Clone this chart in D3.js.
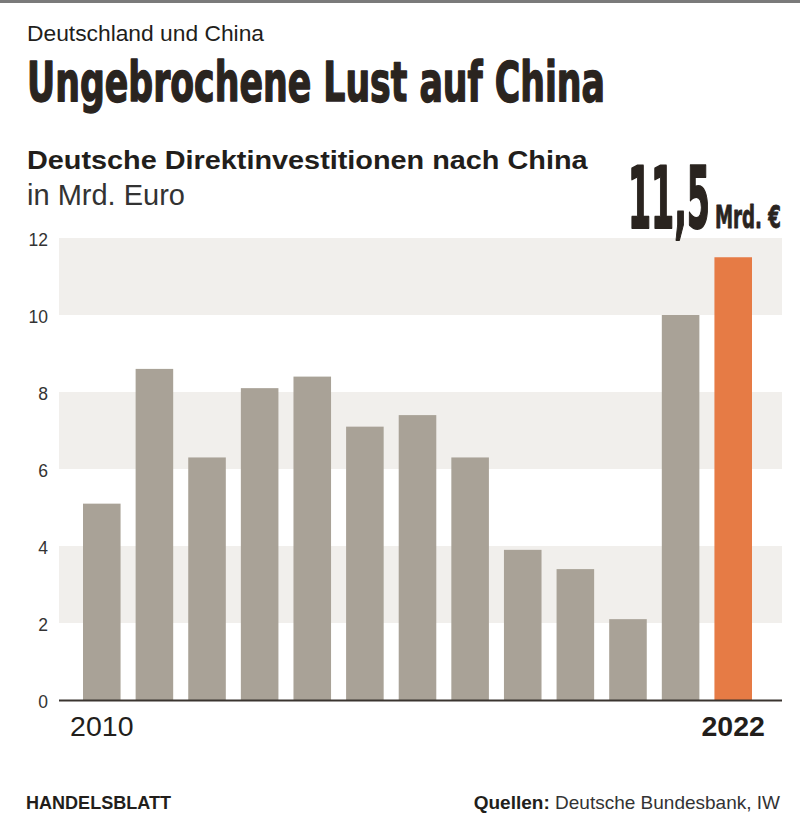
<!DOCTYPE html>
<html><head><meta charset="utf-8">
<script src="https://cdn.jsdelivr.net/npm/d3@7"></script>
<style>
body{margin:0;background:#fff;}
svg{display:block;}
text{font-family:"Liberation Sans",Arial,sans-serif;fill:#221e1b;}
</style></head>
<body><svg id="c" width="800" height="828"></svg>
<script>
const years = [2010,2011,2012,2013,2014,2015,2016,2017,2018,2019,2020,2021,2022];
const values = [5.1,8.6,6.3,8.1,8.4,7.1,7.4,6.3,3.9,3.4,2.1,10.0,11.5];
const yTicks = [0,2,4,6,8,10,12];
const shadedBands = [[2,4],[6,8],[10,12]];
const xLabels = [2010,2022];

const svg = d3.select("#c");
const condensed = "'DejaVu Sans Condensed','DejaVu Sans',sans-serif";

// Place a text and scale it horizontally so its width becomes w.
function fitText(parent, x, y, w, size, txt, opts) {
  const g = parent.append("g");
  const t = g.append("text").attr("x",0).attr("y",0).attr("font-size",size).text(txt);
  if (opts.family) t.style("font-family", opts.family);
  if (opts.weight) t.attr("font-weight", opts.weight);
  if (opts.fill) t.style("fill", opts.fill);
  if (opts.stroke) t.style("stroke", opts.fill || "#221e1b").style("stroke-width", opts.stroke).style("stroke-linejoin","round");
  const len = t.node().getComputedTextLength();
  g.attr("transform", `translate(${x},${y}) scale(${w/len},1)`);
  return t;
}

svg.append("rect").attr("x",0).attr("y",0).attr("width",800).attr("height",3).attr("fill","#7a7a7a");

svg.append("text").attr("x",27).attr("y",41).attr("font-size",22.8).text("Deutschland und China");
fitText(svg, 27, 101, 578, 55, "Ungebrochene Lust auf China", {family:condensed, weight:"bold", fill:"#2a241f", stroke:1.4});
fitText(svg, 27, 169, 561, 26, "Deutsche Direktinvestitionen nach China", {weight:"bold"});
svg.append("text").attr("x",27).attr("y",205).attr("font-size",29).style("fill","#333")
  .text("in Mrd. Euro");

const x = d3.scaleBand().domain(years).range([83,752]).paddingInner(0.286).paddingOuter(0);
const y = d3.scaleLinear().domain([0,12]).range([700,238]);

const g = svg.append("g");
g.selectAll("rect.band").data(shadedBands).join("rect").attr("class","band")
  .attr("x",59).attr("width",723)
  .attr("y",d=>y(d[1])).attr("height",d=>y(d[0])-y(d[1])).attr("fill","#f1efec");

g.selectAll("rect.bar").data(years).join("rect").attr("class","bar")
  .attr("x",d=>x(d)).attr("width",x.bandwidth())
  .attr("y",(d,i)=>y(values[i])).attr("height",(d,i)=>y(0)-y(values[i]))
  .attr("fill",(d,i)=>i===years.length-1?"#e67b45":"#a9a297");

g.append("line").attr("x1",59).attr("x2",782).attr("y1",y(0)+0.5).attr("y2",y(0)+0.5)
  .attr("stroke","#3a3430").attr("stroke-width",2);

const ya = svg.append("g").attr("transform","translate(48,0)")
  .call(d3.axisLeft(y).tickValues(yTicks).tickSize(0).tickPadding(0).tickFormat(d3.format("d")));
ya.select(".domain").remove();
ya.selectAll("text").attr("font-size",17.5).attr("dy","0.45em").style("fill","#333")
  .style("font-family","'Liberation Sans',Arial,sans-serif");

const xa = svg.append("g").attr("transform","translate(0,709)")
  .call(d3.axisBottom(x).tickValues(xLabels).tickSize(0).tickPadding(0));
xa.select(".domain").remove();
xa.selectAll("text").attr("font-size",28.5).attr("dy","0.95em")
  .style("font-family","'Liberation Sans',Arial,sans-serif").style("fill","#221e1b")
  .attr("font-weight",d=>d===2022?"bold":"normal");

// highlight label
const last = values[values.length-1];
fitText(svg, 628, 228, 82, 86, d3.format(".1f")(last).replace(".",","), {family:condensed, weight:"bold", fill:"#2a241f", stroke:2});
fitText(svg, 715, 228, 66, 32, "Mrd. €", {family:condensed, weight:"bold", fill:"#2a241f", stroke:0.8});

fitText(svg, 26, 809, 145, 18, "HANDELSBLATT", {weight:"bold"});
const q = svg.append("text").attr("x",780).attr("y",809).attr("font-size",19).attr("text-anchor","end");
q.append("tspan").attr("font-weight","bold").text("Quellen: ");
q.append("tspan").style("fill","#333").text("Deutsche Bundesbank, IW");
</script></body></html>
